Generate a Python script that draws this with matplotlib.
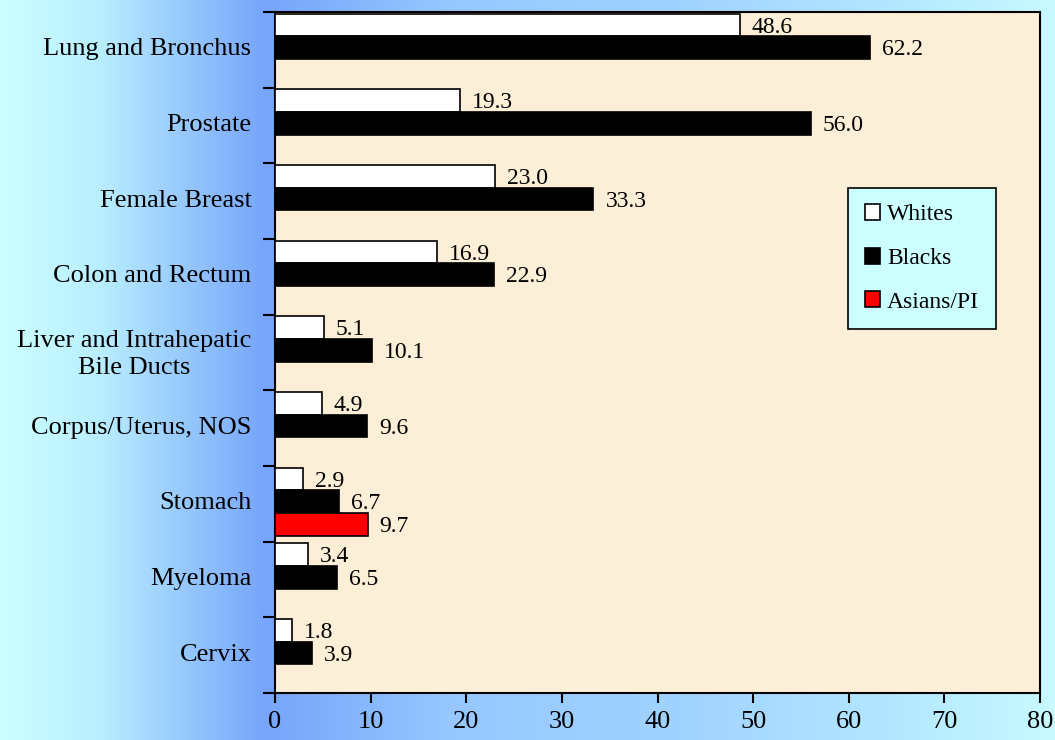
import numpy as np
import matplotlib
matplotlib.use("Agg")
import matplotlib.pyplot as plt
from matplotlib.patches import Patch

plt.rcParams['font.family'] = ['Liberation Serif', 'DejaVu Serif']

# data
sites = ["Lung and Bronchus", "Prostate", "Female Breast", "Colon and Rectum",
         "Liver and Intrahepatic\nBile Ducts", "Corpus/Uterus, NOS", "Stomach",
         "Myeloma", "Cervix"]
whites = [48.6, 19.3, 23.0, 16.9, 5.1, 4.9, 2.9, 3.4, 1.8]
blacks = [62.2, 56.0, 33.3, 22.9, 10.1, 9.6, 6.7, 6.5, 3.9]
asians = [None, None, None, None, None, None, 9.7, None, None]
series_names = ["Whites", "Blacks", "Asians/PI"]
series_colors = ["white", "black", "#ff0000"]

fig = plt.figure(figsize=(10.55, 7.4), dpi=100)

# background gradient (cyan -> blue near plot -> cyan)
bg = fig.add_axes([0, 0, 1, 1], zorder=-10)
stops_x = [0, 100, 265, 450, 700, 880, 1055]
stops_c = [(204, 255, 255), (185, 238, 255), (118, 165, 250), (150, 200, 255),
           (162, 212, 255), (178, 230, 255), (200, 250, 255)]
xs = np.arange(1055)
grad = np.zeros((1, 1055, 3))
for k in range(3):
    grad[0, :, k] = np.interp(xs, stops_x, [c[k] for c in stops_c]) / 255
bg.imshow(grad, aspect='auto', extent=[0, 1, 0, 1])
bg.axis('off')

ax = fig.add_axes([275 / 1055, 47 / 740, 765 / 1055, 681 / 740])
ax.set_facecolor('#fcefd8')

n = len(sites)
pos = np.arange(n)
h = 0.30
offs = [-0.33, -0.03, 0.27]
for vals, off, col in zip([whites, blacks, asians], offs, series_colors):
    for i, v in enumerate(vals):
        if v is None:
            continue
        ax.barh(pos[i] + off, v, height=h, color=col, edgecolor='black', linewidth=1.2, zorder=3)
        ax.text(v + 1.25, pos[i] + off + 0.03, f"{v:.1f}", va='center', ha='left',
                fontsize=17, zorder=4)

ax.set_xlim(0, 80)
ax.set_ylim(n - 0.5, -0.5)
ax.set_xticks(np.arange(0, 81, 10))
ax.tick_params(axis='x', labelsize=19, length=7, width=1.5, direction='out', pad=6)

ax.set_yticks(np.arange(-0.5, n, 1.0))
ax.set_yticklabels([])
ax.tick_params(axis='y', which='major', length=9, width=1.5, direction='out')
ax.set_yticks(pos - 0.04, minor=True)
ax.set_yticklabels(sites, minor=True, fontsize=19, multialignment='center',
                   linespacing=1.3)
ax.tick_params(axis='y', which='minor', length=0, pad=17)

for s in ax.spines.values():
    s.set_linewidth(1.5)
    s.set_color('black')

handles = [Patch(facecolor=c, edgecolor='black', linewidth=1.2) for c in series_colors]
leg = ax.legend(handles, series_names, loc='upper left', bbox_to_anchor=(0.749, 0.742),
                fontsize=17, frameon=True, fancybox=False, framealpha=1,
                facecolor='#ccffff', edgecolor='black', handlelength=0.65,
                handleheight=0.65, handletextpad=0.3, labelspacing=0.95,
                borderpad=0.7, borderaxespad=0)
leg.get_frame().set_linewidth(1.2)

fig.savefig("out.png", dpi=100)
